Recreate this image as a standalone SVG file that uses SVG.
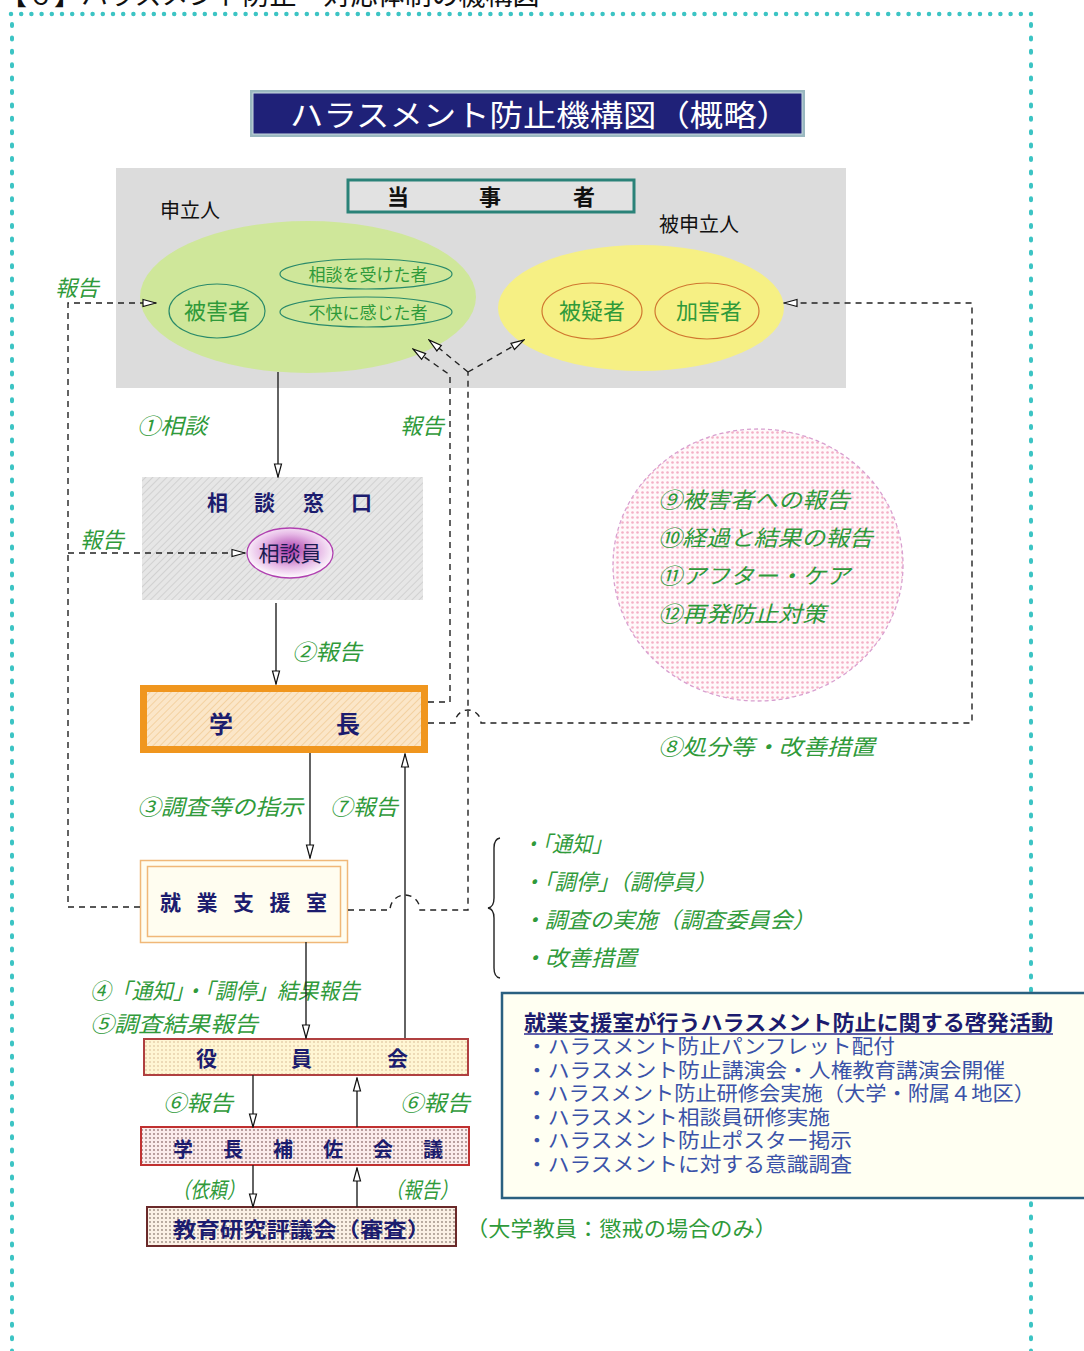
<svg xmlns="http://www.w3.org/2000/svg" width="1084" height="1351" viewBox="0 0 1084 1351">
<style>
text{font-family:"Noto Sans CJK JP","Noto Sans",sans-serif}
.g{fill:#2f9a3a;font-style:italic;font-size:22px}
.nav{fill:#1c1c6e;font-weight:bold}
.blk{fill:#111}
.bl{fill:#3a52a8;font-size:20px}
.dash{fill:none;stroke:#222;stroke-width:1.4;stroke-dasharray:6 5}
.sol{fill:none;stroke:#222;stroke-width:1.4}
</style>
<defs>
<marker id="arr" markerUnits="userSpaceOnUse" markerWidth="15" markerHeight="10" refX="14" refY="5" orient="auto">
<path d="M1,1.5 L14,5 L1,8.5 Z" fill="#fff" stroke="#111" stroke-width="1.2"/>
</marker>
<pattern id="hatchG" width="5" height="5" patternUnits="userSpaceOnUse" patternTransform="rotate(45)">
<rect width="5" height="5" fill="#e6e6e6"/><line x1="0" y1="0" x2="0" y2="5" stroke="#c9c9c9" stroke-width="1.4"/>
</pattern>
<pattern id="hatchO" width="5" height="5" patternUnits="userSpaceOnUse" patternTransform="rotate(45)">
<rect width="5" height="5" fill="#fbe6c8"/><line x1="0" y1="0" x2="0" y2="5" stroke="#f0c890" stroke-width="1.4"/>
</pattern>
<pattern id="dotY" width="4" height="4" patternUnits="userSpaceOnUse">
<rect width="4" height="4" fill="#fff6d4"/><circle cx="2" cy="2" r="0.8" fill="#d6b890"/>
</pattern>
<pattern id="dotP" width="4" height="4" patternUnits="userSpaceOnUse">
<rect width="4" height="4" fill="#fbecec"/><circle cx="2" cy="2" r="0.9" fill="#9a7a7a"/>
</pattern>
<pattern id="dotB" width="4" height="4" patternUnits="userSpaceOnUse">
<rect width="4" height="4" fill="#fbf1e6"/><circle cx="2" cy="2" r="0.9" fill="#9a8a80"/>
</pattern>
<pattern id="dotPink" width="5" height="5" patternUnits="userSpaceOnUse">
<rect width="5" height="5" fill="#fff8fa"/><circle cx="2.5" cy="2.5" r="1.3" fill="#f4b0c6"/>
</pattern>
<radialGradient id="rgP" cx="0.5" cy="0.45" r="0.55">
<stop offset="0" stop-color="#a838a8"/><stop offset="0.6" stop-color="#e6b8e6"/><stop offset="1" stop-color="#ffffff"/>
</radialGradient>
</defs>

<!-- header (cut off at the top edge, as in the reference) -->
<text x="0" y="5" font-size="27" fill="#111">【６】ハラスメント防止・対応体制の機構図</text>

<!-- dotted frame -->
<g fill="none" stroke="#3cc4c4" stroke-linecap="round">
<line x1="11" y1="14" x2="1031" y2="14" stroke-width="4.5" stroke-dasharray="0 10.2"/>
<line x1="12" y1="24" x2="12" y2="1351" stroke-width="4" stroke-dasharray="2 11.4"/>
<line x1="1031" y1="24" x2="1031" y2="1351" stroke-width="4" stroke-dasharray="2 11.4"/>
</g>

<!-- title -->
<g id="title">
<rect x="250" y="90" width="555" height="47" fill="#9ab8c0"/>
<rect x="253" y="93" width="549" height="41" fill="#1f2178" stroke="#c8d8e0" stroke-width="1"/>
<text x="290" y="126" font-size="30" fill="#fff" textLength="500" lengthAdjust="spacingAndGlyphs">ハラスメント防止機構図（概略）</text>
</g>

<!-- parties area -->
<g id="parties">
<rect x="116" y="168" width="730" height="220" fill="#dcdcdc"/>
<rect x="348" y="180" width="286" height="32" fill="#e2e2e2" stroke="#2a8278" stroke-width="3"/>
<text x="387" y="205" font-size="22" class="blk" font-weight="bold">当</text>
<text x="479" y="205" font-size="22" class="blk" font-weight="bold">事</text>
<text x="573" y="205" font-size="22" class="blk" font-weight="bold">者</text>
<text x="160" y="218" font-size="20" class="blk">申立人</text>
<text x="659" y="232" font-size="20" class="blk">被申立人</text>
</g>

<g id="moushitatenin">
<ellipse cx="308" cy="297" rx="168" ry="76" fill="#cfe79a"/>
<ellipse cx="217" cy="311" rx="48" ry="27" fill="none" stroke="#2a8a6a" stroke-width="1.2"/>
<text x="217" y="319" font-size="22" fill="#2f9a3a" text-anchor="middle">被害者</text>
<ellipse cx="366" cy="274" rx="86" ry="15" fill="none" stroke="#2a8a6a" stroke-width="1.2"/>
<text x="368" y="281" font-size="17" fill="#2f9a3a" text-anchor="middle">相談を受けた者</text>
<ellipse cx="366" cy="312" rx="86" ry="15" fill="none" stroke="#2a8a6a" stroke-width="1.2"/>
<text x="368" y="319" font-size="17" fill="#2f9a3a" text-anchor="middle">不快に感じた者</text>
</g>

<g id="hishinritsu">
<ellipse cx="641" cy="308" rx="143" ry="63" fill="#f6f084"/>
<ellipse cx="592" cy="311" rx="50" ry="28" fill="none" stroke="#d07830" stroke-width="1.2"/>
<text x="592" y="319" font-size="22" fill="#2f9a3a" text-anchor="middle">被疑者</text>
<ellipse cx="707" cy="311" rx="52" ry="28" fill="none" stroke="#d07830" stroke-width="1.2"/>
<text x="709" y="319" font-size="22" fill="#2f9a3a" text-anchor="middle">加害者</text>
</g>

<!-- consultation window -->
<g id="soudan-madoguchi">
<rect x="142" y="477" width="281" height="123" fill="url(#hatchG)"/>
<text x="207" y="510" font-size="21" class="nav">相</text>
<text x="254" y="510" font-size="21" class="nav">談</text>
<text x="303" y="510" font-size="21" class="nav">窓</text>
<text x="351" y="510" font-size="21" class="nav">口</text>
</g>
<g id="soudanin">
<ellipse cx="290" cy="553" rx="43" ry="25" fill="url(#rgP)" stroke="#b040b0" stroke-width="1.3"/>
<text x="290" y="561" font-size="21" fill="#1a1a50" text-anchor="middle">相談員</text>
</g>

<!-- president -->
<g id="gakucho">
<rect x="143.5" y="688.5" width="281" height="61" fill="url(#hatchO)" stroke="#f0961e" stroke-width="7"/>
<text x="209" y="733" font-size="24" class="nav">学</text>
<text x="336" y="733" font-size="24" class="nav">長</text>
</g>

<!-- employment support office -->
<g id="shugyo">
<rect x="140.5" y="860.5" width="207" height="82" fill="#fffdf0" stroke="#f0b878" stroke-width="1.5"/>
<rect x="147.5" y="866.5" width="193" height="70" fill="none" stroke="#f0b878" stroke-width="1.5"/>
<text x="160" y="910" font-size="21" class="nav" textLength="167" lengthAdjust="spacing">就業支援室</text>
</g>

<!-- pink circle -->
<g id="followup">
<ellipse cx="758" cy="565" rx="145" ry="136" fill="url(#dotPink)" stroke="#d8a0d0" stroke-width="1.3" stroke-dasharray="4 3"/>
<text x="658" y="508" class="g" textLength="192" lengthAdjust="spacingAndGlyphs">⑨被害者への報告</text>
<text x="658" y="546" class="g" textLength="215" lengthAdjust="spacingAndGlyphs">⑩経過と結果の報告</text>
<text x="658" y="584" class="g" textLength="192" lengthAdjust="spacingAndGlyphs">⑪アフター・ケア</text>
<text x="658" y="622" class="g" textLength="168" lengthAdjust="spacingAndGlyphs">⑫再発防止対策</text>
</g>

<!-- board -->
<g id="yakuinkai">
<rect x="144" y="1039" width="324" height="36" fill="url(#dotY)" stroke="#b04040" stroke-width="2"/>
<text x="196" y="1066" font-size="21" class="nav">役</text>
<text x="291" y="1066" font-size="21" class="nav">員</text>
<text x="387" y="1066" font-size="21" class="nav">会</text>
</g>
<g id="hosa">
<rect x="141" y="1127" width="328" height="38" fill="url(#dotP)" stroke="#c03030" stroke-width="2"/>
<text x="173" y="1157" font-size="20" class="nav" textLength="270" lengthAdjust="spacing">学長補佐会議</text>
</g>
<g id="hyogikai">
<rect x="147" y="1207" width="309" height="39" fill="url(#dotB)" stroke="#6a2a2a" stroke-width="2"/>
<text x="173" y="1237" font-size="21" class="nav" textLength="257" lengthAdjust="spacingAndGlyphs">教育研究評議会（審査）</text>
</g>

<!-- right info box -->
<g id="keihatsu">
<rect x="502" y="993" width="590" height="205" fill="#fffff2" stroke="#2a6080" stroke-width="2.5"/>
<text x="524" y="1030" font-size="21" class="nav" fill="#2a2a90" textLength="529" lengthAdjust="spacingAndGlyphs">就業支援室が行うハラスメント防止に関する啓発活動</text>
<line x1="524" y1="1034" x2="1053" y2="1034" stroke="#2a2a90" stroke-width="1.5"/>
<text x="526" y="1054" class="bl" textLength="369" lengthAdjust="spacingAndGlyphs">・ハラスメント防止パンフレット配付</text>
<text x="526" y="1078" class="bl" textLength="479" lengthAdjust="spacingAndGlyphs">・ハラスメント防止講演会・人権教育講演会開催</text>
<text x="526" y="1101" class="bl" textLength="509" lengthAdjust="spacingAndGlyphs">・ハラスメント防止研修会実施（大学・附属４地区）</text>
<text x="526" y="1125" class="bl" textLength="304" lengthAdjust="spacingAndGlyphs">・ハラスメント相談員研修実施</text>
<text x="526" y="1148" class="bl" textLength="326" lengthAdjust="spacingAndGlyphs">・ハラスメント防止ポスター掲示</text>
<text x="526" y="1172" class="bl" textLength="326" lengthAdjust="spacingAndGlyphs">・ハラスメントに対する意識調査</text>
</g>

<!-- labels -->
<g id="labels">
<text x="55" y="296" class="g">報告</text>
<text x="80" y="548" class="g">報告</text>
<text x="137" y="434" class="g" textLength="70" lengthAdjust="spacingAndGlyphs">①相談</text>
<text x="400" y="434" class="g">報告</text>
<text x="292" y="660" class="g" textLength="70" lengthAdjust="spacingAndGlyphs">②報告</text>
<text x="137" y="815" class="g" textLength="166" lengthAdjust="spacingAndGlyphs">③調査等の指示</text>
<text x="330" y="815" class="g" textLength="68" lengthAdjust="spacingAndGlyphs">⑦報告</text>
<text x="658" y="755" class="g" textLength="217" lengthAdjust="spacingAndGlyphs">⑧処分等・改善措置</text>
<text x="522" y="852" class="g" textLength="90" lengthAdjust="spacingAndGlyphs">・「通知」</text>
<text x="522" y="890" class="g" textLength="194" lengthAdjust="spacingAndGlyphs">・「調停」（調停員）</text>
<text x="522" y="928" class="g" textLength="293" lengthAdjust="spacingAndGlyphs">・調査の実施（調査委員会）</text>
<text x="522" y="966" class="g" textLength="115" lengthAdjust="spacingAndGlyphs">・改善措置</text>
<text x="90" y="999" class="g" textLength="270" lengthAdjust="spacingAndGlyphs">④「通知」・「調停」結果報告</text>
<text x="90" y="1032" class="g" textLength="168" lengthAdjust="spacingAndGlyphs">⑤調査結果報告</text>
<text x="163" y="1111" class="g" textLength="70" lengthAdjust="spacingAndGlyphs">⑥報告</text>
<text x="400" y="1111" class="g" textLength="70" lengthAdjust="spacingAndGlyphs">⑥報告</text>
<text x="172" y="1198" class="g" textLength="73" lengthAdjust="spacingAndGlyphs">（依頼）</text>
<text x="385" y="1198" class="g" textLength="73" lengthAdjust="spacingAndGlyphs">（報告）</text>
<text x="466" y="1236" font-size="21" fill="#2f9a3a" textLength="311" lengthAdjust="spacingAndGlyphs">（大学教員：懲戒の場合のみ）</text>
</g>

<!-- connectors -->
<g id="connectors">
<path class="sol" d="M278,372 L278,477" marker-end="url(#arr)"/>
<path class="sol" d="M276,603 L276,684" marker-end="url(#arr)"/>
<path class="sol" d="M310,753 L310,858" marker-end="url(#arr)"/>
<path class="sol" d="M405,1038 L405,754" marker-end="url(#arr)"/>
<path class="sol" d="M306,942 L306,1038" marker-end="url(#arr)"/>
<path class="sol" d="M253,1075 L253,1127" marker-end="url(#arr)"/>
<path class="sol" d="M357,1127 L357,1078" marker-end="url(#arr)"/>
<path class="sol" d="M253,1165 L253,1207" marker-end="url(#arr)"/>
<path class="sol" d="M357,1207 L357,1168" marker-end="url(#arr)"/>
<path class="sol" d="M500,838 Q494,839 494,848 L494,898 Q494,907 488,908 Q494,909 494,918 L494,968 Q494,977 500,978"/>

<path class="dash" d="M140,907 L68,907 L68,303 L156,303" marker-end="url(#arr)"/>
<path class="dash" d="M68,553 L245,553" marker-end="url(#arr)"/>
<path class="dash" d="M428,702 L450,702 L450,375 L413,349" marker-end="url(#arr)"/>
<path class="dash" d="M348,910 L390,910 A15,15 0 0 1 420,910 L468,910 L468,372"/>
<path class="dash" d="M468,372 L429,340" marker-end="url(#arr)"/>
<path class="dash" d="M468,372 L524,340" marker-end="url(#arr)"/>
<path class="dash" d="M428,723 L455,723 A13,13 0 0 1 481,723 L972,723 L972,303 L784,303" marker-end="url(#arr)"/>
</g>
</svg>
